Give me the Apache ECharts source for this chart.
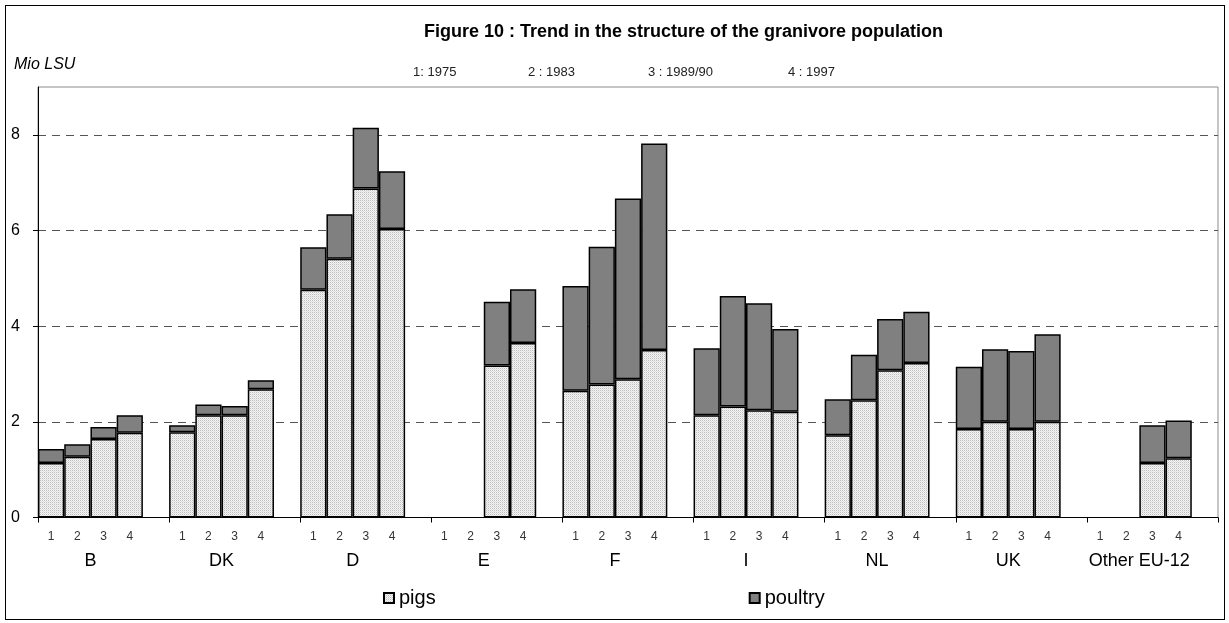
<!DOCTYPE html>
<html><head><meta charset="utf-8">
<script src="https://cdn.jsdelivr.net/npm/echarts@6/dist/echarts.min.js"></script>
<style>
html,body{margin:0;padding:0;background:#fff}
#wrap{position:relative;width:1229px;height:623px}
#c{width:1229px;height:623px}
#frame{position:absolute;left:5px;top:5px;width:1218px;height:613px;border:1px solid #000;pointer-events:none}
</style>
</head><body>
<div id="wrap"><div id="c"></div><div id="frame"></div></div>
<script>
// ---- data ----
const countries = ['B', 'DK', 'D', 'E', 'F', 'I', 'NL', 'UK', 'Other EU-12'];
const periods = ['1', '2', '3', '4'];
const periodKeys = ['1: 1975', '2 : 1983', '3 : 1989/90', '4 : 1997'];
const pigs = [
  [1.14, 1.27, 1.64, 1.77],
  [1.78, 2.14, 2.14, 2.68],
  [4.76, 5.41, 6.88, 6.03],
  [null, null, 3.18, 3.65],
  [2.65, 2.78, 2.89, 3.50],
  [2.14, 2.32, 2.24, 2.21],
  [1.72, 2.45, 3.08, 3.23],
  [1.85, 2.00, 1.85, 2.00],
  [null, null, 1.14, 1.24]
];
const poultry = [
  [0.29, 0.26, 0.25, 0.37],
  [0.15, 0.22, 0.19, 0.19],
  [0.89, 0.93, 1.27, 1.21],
  [null, null, 1.33, 1.12],
  [2.19, 2.88, 3.78, 4.32],
  [1.40, 2.31, 2.24, 1.73],
  [0.75, 0.95, 1.07, 1.07],
  [1.30, 1.52, 1.63, 1.83],
  [null, null, 0.79, 0.79]
];
const yTicks = [0, 2, 4, 6, 8];

// ---- build category slots (4 periods + one blank per country) ----
const slotLabels = [], pigsData = [], poultryData = [];
countries.forEach((c, i) => {
  periods.forEach((p, j) => {
    slotLabels.push(p);
    pigsData.push(pigs[i][j] == null ? '-' : pigs[i][j]);
    poultryData.push(poultry[i][j] == null ? '-' : poultry[i][j]);
  });
  slotLabels.push('');
  pigsData.push('-');
  poultryData.push('-');
});
// boundary points for country labels/ticks
const boundaryLabels = [];
for (let k = 0; k <= slotLabels.length; k++) {
  const g = Math.floor(k / 5);
  boundaryLabels.push(k % 5 === 2 && g < countries.length ? countries[g] : '');
}

// stipple pattern for pigs
const pc = document.createElement('canvas');
pc.width = 2; pc.height = 2;
const pctx = pc.getContext('2d');
pctx.fillStyle = '#f4f4f4'; pctx.fillRect(0, 0, 2, 2);
pctx.fillStyle = '#bdbdbd'; pctx.fillRect(0, 0, 1, 1);
pctx.fillStyle = '#dedede'; pctx.fillRect(1, 1, 1, 1);
const pigsFill = { image: pc, repeat: 'repeat' };

const FONT = 'Liberation Sans, Arial, sans-serif';
const keyLeft = [413, 528, 648, 788];

const chart = echarts.init(document.getElementById('c'), null, { renderer: 'canvas' });
chart.setOption({
  animation: false,
  backgroundColor: '#fff',
  textStyle: { fontFamily: FONT, color: '#000' },
  title: [
    { text: 'Figure 10 : Trend in the structure of the granivore population', left: 424, top: 23, padding: 0,
      textStyle: { fontFamily: FONT, fontSize: 18, fontWeight: 'bold', color: '#000' } },
    { text: 'Mio LSU', left: 14, top: 57, padding: 0,
      textStyle: { fontFamily: FONT, fontSize: 16, fontStyle: 'italic', fontWeight: 'normal', color: '#000' } }
  ].concat(periodKeys.map((t, i) => ({
    text: t, left: keyLeft[i], top: 66, padding: 0,
    textStyle: { fontFamily: FONT, fontSize: 13, fontWeight: 'normal', color: '#222' }
  }))),
  legend: {
    data: ['pigs', 'poultry'], left: 383, top: 588, padding: 0, itemWidth: 10, itemHeight: 10, itemGap: 313,
    icon: 'rect', textStyle: { fontFamily: FONT, fontSize: 20, color: '#000' }
  },
  grid: { left: 38, right: 11, top: 87, bottom: 105.5, show: true, borderColor: '#8c8c8c', borderWidth: 1, backgroundColor: 'transparent' },
  xAxis: [
    { type: 'category', data: slotLabels, position: 'bottom',
      axisLine: { show: true, lineStyle: { color: '#000', width: 1 } },
      axisTick: { show: false },
      axisLabel: { interval: 0, fontSize: 12, color: '#333', margin: 13, fontFamily: FONT } },
    { type: 'category', data: boundaryLabels, position: 'bottom', boundaryGap: false,
      axisLine: { show: false },
      axisTick: { show: true, interval: (i) => i % 5 === 0, length: 5, lineStyle: { color: '#000' } },
      axisLabel: { interval: 0, fontSize: 18, color: '#000', margin: 35, fontFamily: FONT } }
  ],
  yAxis: {
    type: 'value', min: 0, max: 9, interval: 2,
    axisLine: { show: true, lineStyle: { color: '#000', width: 1 } },
    axisTick: { show: true, length: 5, lineStyle: { color: '#000' } },
    axisLabel: { fontSize: 16, color: '#000', margin: 18, showMaxLabel: false, fontFamily: FONT,
      formatter: (v) => yTicks.indexOf(v) >= 0 ? String(v) : '' },
    splitLine: { show: true, showMaxLine: false, lineStyle: { type: [8, 6], color: '#555', width: 1 } }
  },
  series: [
    { name: 'pigs', type: 'bar', stack: 'total', data: pigsData, barCategoryGap: '0%', xAxisIndex: 0,
      itemStyle: { color: pigsFill, borderColor: '#000', borderWidth: 1.5 } },
    { name: 'poultry', type: 'bar', stack: 'total', data: poultryData, barCategoryGap: '0%', xAxisIndex: 0,
      itemStyle: { color: '#808080', borderColor: '#000', borderWidth: 1.5 } }
  ]
});
</script>
</body></html>
